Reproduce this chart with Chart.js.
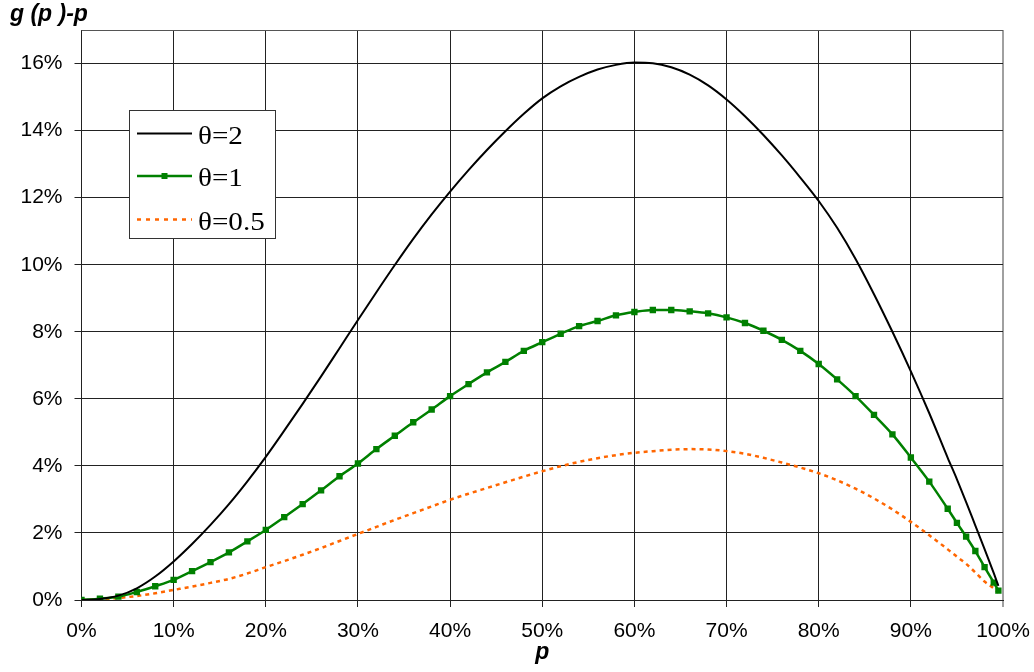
<!DOCTYPE html>
<html>
<head>
<meta charset="utf-8">
<script src="https://cdn.jsdelivr.net/npm/chart.js@4"></script>
<style>
  body { margin: 0; background: #fff; }
  #wrap { width: 1034px; height: 672px; }
</style>
</head>
<body>
<div id="wrap"><canvas id="chart" width="1034" height="672"></canvas></div>
<script>
// p values (in %), same for all three curves
const pValues = [0, 2, 4, 6, 8, 10, 12, 14, 16, 18, 20, 22, 24, 26, 28, 30, 32, 34, 36, 38,
  40, 42, 44, 46, 48, 50, 52, 54, 56, 58, 60, 62, 64, 66, 68, 70, 72, 74, 76, 78,
  80, 82, 84, 86, 88, 90, 92, 94, 95, 96, 97, 98, 99, 99.5];

// g(p)-p in %
const theta2 = [0, 0.03, 0.13, 0.35, 0.7, 1.15, 1.67, 2.24, 2.86, 3.54, 4.27, 5.05, 5.85, 6.67, 7.51, 8.35, 9.18, 9.99, 10.77, 11.5,
  12.18, 12.82, 13.42, 13.98, 14.5, 14.96, 15.32, 15.6, 15.82, 15.96, 16.03, 16.01, 15.89, 15.67, 15.35, 14.93, 14.43, 13.87, 13.26, 12.6,
  11.9, 11.1, 10.17, 9.12, 8.0, 6.82, 5.57, 4.24, 3.6, 2.92, 2.22, 1.52, 0.8, 0.42];
const theta1 = [0, 0.04, 0.1, 0.24, 0.41, 0.6, 0.86, 1.13, 1.42, 1.75, 2.09, 2.47, 2.86, 3.27, 3.69, 4.07, 4.5, 4.9, 5.3, 5.68,
  6.08, 6.44, 6.79, 7.1, 7.43, 7.69, 7.94, 8.17, 8.32, 8.49, 8.59, 8.65, 8.65, 8.61, 8.55, 8.43, 8.26, 8.03, 7.76, 7.43,
  7.04, 6.58, 6.08, 5.52, 4.94, 4.25, 3.53, 2.72, 2.3, 1.89, 1.46, 0.98, 0.52, 0.28];
const theta05 = [0, 0.02, 0.06, 0.12, 0.2, 0.3, 0.4, 0.51, 0.63, 0.79, 0.98, 1.16, 1.35, 1.55, 1.76, 1.97, 2.18, 2.39, 2.59, 2.79,
  2.99, 3.17, 3.34, 3.51, 3.68, 3.84, 3.99, 4.12, 4.23, 4.32, 4.39, 4.44, 4.48, 4.5, 4.49, 4.44, 4.36, 4.24, 4.1, 3.95,
  3.78, 3.57, 3.32, 3.03, 2.7, 2.33, 1.93, 1.51, 1.29, 1.08, 0.82, 0.55, 0.35, 0.22];

const seriesNames = ["\u03b8=2", "\u03b8=1", "\u03b8=0.5"];
const xTicks = [0, 10, 20, 30, 40, 50, 60, 70, 80, 90, 100];
const yTicks = [0, 2, 4, 6, 8, 10, 12, 14, 16];

const BLACK = "#000000";
const GREEN = "#008000";
const ORANGE = "#ff6600";
const SANS = "'Liberation Sans', Arial, sans-serif";

function points(ys) {
  return pValues.map((p, i) => ({ x: p, y: ys[i] }));
}

// legend box drawn inside the plot, like the original
const boxLegend = {
  id: "boxLegend",
  afterDatasetsDraw(chart) {
    const ctx = chart.ctx;
    const bx = 129.5, by = 110.5, bw = 146, bh = 128;
    ctx.save();
    ctx.fillStyle = "#fff";
    ctx.fillRect(bx, by, bw, bh);
    ctx.strokeStyle = "#333";
    ctx.lineWidth = 1;
    ctx.strokeRect(bx, by, bw, bh);

    const rows = [133.5, 176, 219.5];
    const styles = [
      { color: BLACK, width: 2, dash: [] },
      { color: GREEN, width: 2.5, dash: [], marker: true },
      { color: ORANGE, width: 2.5, dash: [4, 5] }
    ];
    rows.forEach((y, i) => {
      const s = styles[i];
      ctx.beginPath();
      ctx.setLineDash(s.dash);
      ctx.strokeStyle = s.color;
      ctx.lineWidth = s.width;
      ctx.moveTo(137, y);
      ctx.lineTo(192, y);
      ctx.stroke();
      ctx.setLineDash([]);
      if (s.marker) {
        ctx.fillStyle = s.color;
        ctx.fillRect(161.5, y - 3, 6, 6);
      }
      // the original text is a bit wider than the font, stretch it a little
      ctx.save();
      ctx.translate(198, y + 10);
      ctx.scale(1.12, 1);
      ctx.fillStyle = "#000";
      ctx.font = "26px 'Liberation Serif', 'Times New Roman', serif";
      ctx.textAlign = "left";
      ctx.textBaseline = "alphabetic";
      ctx.fillText(seriesNames[i], 0, 0);
      ctx.restore();
    });
    ctx.restore();
  }
};

// top border of the plot area
const plotFrame = {
  id: "plotFrame",
  beforeDatasetsDraw(chart) {
    const a = chart.chartArea;
    const ctx = chart.ctx;
    ctx.save();
    ctx.strokeStyle = "#555";
    ctx.lineWidth = 1;
    ctx.beginPath();
    ctx.moveTo(a.left, Math.round(a.top) + 0.5);
    ctx.lineTo(a.right, Math.round(a.top) + 0.5);
    ctx.stroke();
    ctx.restore();
  }
};

new Chart(document.getElementById("chart"), {
  type: "line",
  data: {
    datasets: [
      {
        label: seriesNames[0],
        data: points(theta2),
        borderColor: BLACK,
        borderWidth: 2,
        pointRadius: 0,
        cubicInterpolationMode: "monotone",
        fill: false
      },
      {
        label: seriesNames[1],
        data: points(theta1),
        borderColor: GREEN,
        backgroundColor: GREEN,
        borderWidth: 2.5,
        pointStyle: "rect",
        pointRadius: 4.5,
        pointBorderWidth: 0,
        pointBackgroundColor: GREEN,
        cubicInterpolationMode: "monotone",
        fill: false
      },
      {
        label: seriesNames[2],
        data: points(theta05),
        borderColor: ORANGE,
        borderWidth: 2.5,
        borderDash: [4, 4],
        pointRadius: 0,
        cubicInterpolationMode: "monotone",
        fill: false
      }
    ]
  },
  options: {
    responsive: false,
    animation: false,
    devicePixelRatio: 1,
    layout: { padding: { left: 10, right: 31, top: 0, bottom: 0 } },
    plugins: {
      legend: { display: false },
      tooltip: { enabled: false },
      title: {
        display: true,
        text: "g (p )-p",
        align: "start",
        color: "#000",
        font: { family: SANS, size: 23, style: "italic", weight: "bold", lineHeight: 1 },
        padding: { top: 3, bottom: 4 }
      }
    },
    scales: {
      x: {
        type: "linear",
        min: 0,
        max: 100,
        afterBuildTicks: (s) => { s.ticks = xTicks.map(v => ({ value: v })); },
        afterFit: (s) => { s.height = 72; s.paddingLeft = 0; s.paddingRight = 0; },
        ticks: {
          color: "#000",
          padding: 12,
          maxRotation: 0,
          font: { family: SANS, size: 21 },
          callback: (v) => v + "%"
        },
        grid: {
          color: (c) => c.tick && c.tick.value === 100 ? "#a0a0a0" : "#222",
          lineWidth: (c) => c.tick && c.tick.value === 100 ? 2 : 1,
          tickLength: 7
        },
        border: { color: "#222" },
        title: {
          display: true,
          text: "p",
          color: "#000",
          font: { family: SANS, size: 23, style: "italic", weight: "bold", lineHeight: 1 },
          padding: { top: 0, bottom: 8 }
        }
      },
      y: {
        type: "linear",
        min: 0,
        max: 17,
        bounds: "data",
        afterBuildTicks: (s) => { s.ticks = yTicks.map(v => ({ value: v })); },
        afterFit: (s) => { s.width = 71.5; s.paddingTop = 0; s.paddingBottom = 0; },
        ticks: {
          color: "#000",
          padding: 12,
          font: { family: SANS, size: 21 },
          callback: (v) => v + "%"
        },
        grid: { color: "#222", lineWidth: 1, tickLength: 7 },
        border: { color: "#222" }
      }
    }
  },
  plugins: [plotFrame, boxLegend]
});
</script>
</body>
</html>
